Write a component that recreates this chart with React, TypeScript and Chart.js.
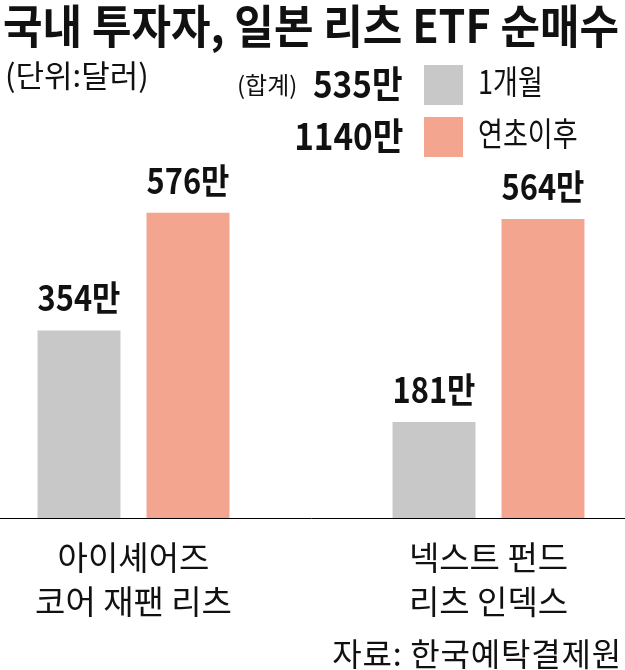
import React, { useEffect, useRef } from "react";
import { Chart, registerables } from "chart.js";

Chart.register(...registerables);

const titleText = "국내 투자자, 일본 리츠 ETF 순매수";
const unitText = "(단위:달러)";
const totalPrefix = "(합계)";
const sourceText = "자료: 한국예탁결제원";
const valueSuffix = "만";

const categories = [
  ["아이셰어즈", "코어 재팬 리츠"],
  ["넥스트 펀드", "리츠 인덱스"],
];
const seriesNames = ["1개월", "연초이후"];
const oneMonth = [354, 181];
const sinceJan = [576, 564];
const seriesColors = ["#C8C8C8", "#F4A590"];
const yMax = 600;

const FONT = '"Noto Sans CJK KR", "Noto Sans", sans-serif';

const valueLabels = {
  id: "valueLabels",
  afterDatasetsDraw(chart: any) {
    const ctx = chart.ctx;
    chart.data.datasets.forEach((ds: any, di: number) => {
      const meta = chart.getDatasetMeta(di);
      meta.data.forEach((bar: any, i: number) => {
        ctx.save();
        ctx.font = `bold 35px ${FONT}`;
        ctx.fillStyle = "#111";
        ctx.textAlign = "center";
        ctx.textBaseline = "alphabetic";
        ctx.translate(bar.x, bar.y - 19);
        ctx.scale(0.88, 1);
        ctx.fillText(`${ds.data[i]}${valueSuffix}`, 0, 0);
        ctx.restore();
      });
    });
  },
};

export default function App() {
  const canvasRef = useRef<HTMLCanvasElement | null>(null);

  useEffect(() => {
    document.body.style.margin = "0";
    const canvas = canvasRef.current;
    if (!canvas) return;
    const chart = new Chart(canvas, {
      type: "bar",
      data: {
        labels: categories,
        datasets: [
          {
            label: seriesNames[0],
            data: oneMonth,
            backgroundColor: seriesColors[0],
            borderWidth: 0,
          },
          {
            label: seriesNames[1],
            data: sinceJan,
            backgroundColor: seriesColors[1],
            borderWidth: 0,
          },
        ],
      },
      options: {
        responsive: false,
        animation: false,
        maintainAspectRatio: false,
        layout: { padding: { top: 200, left: 0, right: 0, bottom: 0 } },
        datasets: {
          bar: { categoryPercentage: 0.614, barPercentage: 0.761 },
        },
        plugins: {
          legend: { display: false },
          title: { display: false },
          tooltip: { enabled: false },
        },
        scales: {
          x: {
            grid: { display: false, drawTicks: false },
            border: { display: true, color: "#000", width: 1 },
            ticks: {
              color: "#111",
              padding: 17,
              font: { family: FONT, size: 33, lineHeight: "44px" },
              maxRotation: 0,
              autoSkip: false,
            },
            afterFit: (scale: any) => {
              scale.height = 152;
            },
          },
          y: {
            display: false,
            min: 0,
            max: yMax,
          },
        },
      },
      plugins: [valueLabels],
    });
    return () => chart.destroy();
  }, []);

  const totals = [
    oneMonth.reduce((a, b) => a + b, 0),
    sinceJan.reduce((a, b) => a + b, 0),
  ];
  const rowTops = [64, 116];

  return (
    <div
      style={{
        position: "relative",
        width: 625,
        height: 670,
        overflow: "hidden",
        background: "#fff",
        fontFamily: FONT,
        color: "#111",
      }}
    >
      <canvas
        ref={canvasRef}
        width={710}
        height={670}
        style={{ position: "absolute", left: -44, top: 0, width: 710, height: 670 }}
      />
      <div
        style={{
          position: "absolute",
          left: 3,
          top: 0,
          fontSize: 46,
          fontWeight: 700,
          lineHeight: 1,
          whiteSpace: "nowrap",
          transform: "scaleX(0.935)",
          transformOrigin: "left top",
        }}
      >
        {titleText}
      </div>
      <div
        style={{
          position: "absolute",
          left: 5,
          top: 58,
          fontSize: 31,
          lineHeight: 1,
          whiteSpace: "nowrap",
        }}
      >
        {unitText}
      </div>
      <div
        style={{
          position: "absolute",
          left: 237,
          top: 72,
          fontSize: 24,
          lineHeight: 1,
          whiteSpace: "nowrap",
        }}
      >
        {totalPrefix}
      </div>
      {seriesNames.map((name, i) => (
        <React.Fragment key={name}>
          <div
            style={{
              position: "absolute",
              right: 222,
              top: rowTops[i],
              fontSize: 37,
              fontWeight: 700,
              lineHeight: 1,
              whiteSpace: "nowrap",
              textAlign: "right",
              transform: "scaleX(0.9)",
              transformOrigin: "right top",
            }}
          >
            {`${totals[i]}${valueSuffix}`}
          </div>
          <div
            style={{
              position: "absolute",
              left: 424,
              top: rowTops[i] + 1,
              width: 39,
              height: 40,
              background: seriesColors[i],
            }}
          />
          <div
            style={{
              position: "absolute",
              left: 478,
              top: rowTops[i],
              fontSize: 33,
              lineHeight: 1,
              whiteSpace: "nowrap",
              transform: "scaleX(0.82)",
              transformOrigin: "left top",
            }}
          >
            {name}
          </div>
        </React.Fragment>
      ))}
      <div
        style={{
          position: "absolute",
          right: 3,
          top: 636,
          fontSize: 32,
          letterSpacing: 0.8,
          lineHeight: 1,
          whiteSpace: "nowrap",
          textAlign: "right",
        }}
      >
        {sourceText}
      </div>
    </div>
  );
}
